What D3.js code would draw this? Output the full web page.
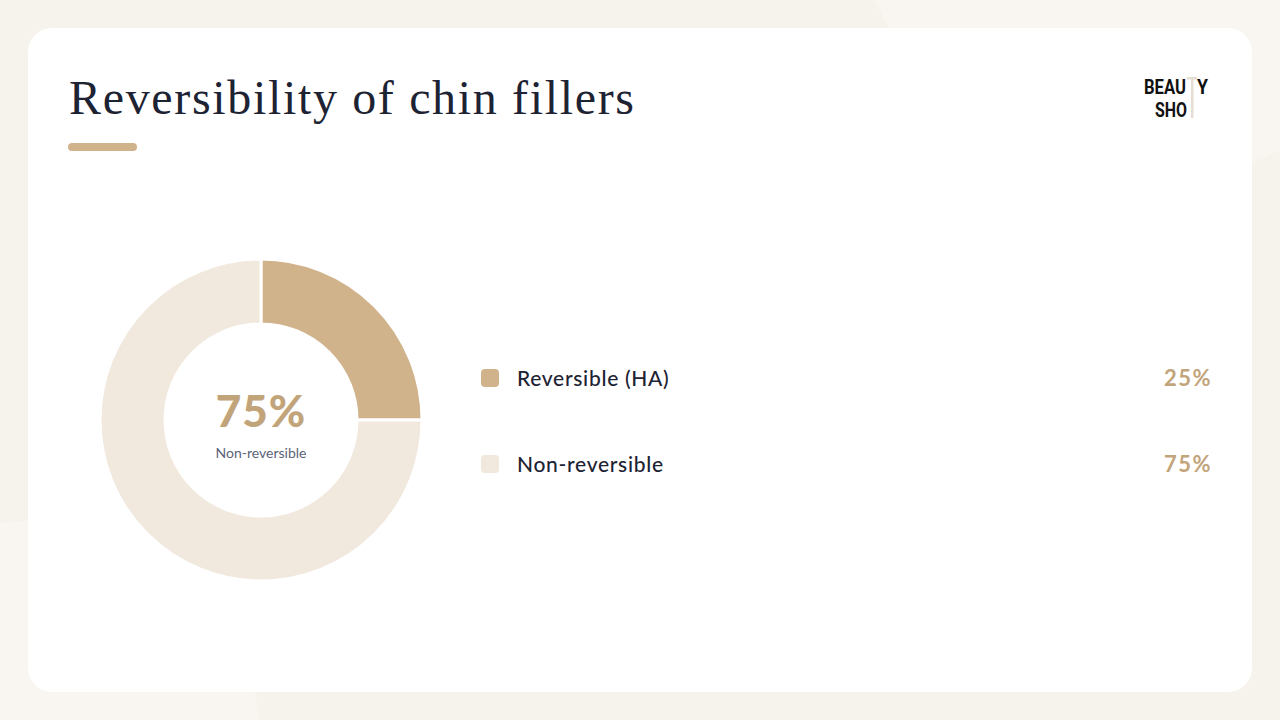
<!DOCTYPE html>
<html><head><meta charset="utf-8">
<script src="https://cdn.jsdelivr.net/npm/d3@7"></script>
<style>body{margin:0;background:#f6f2ec;overflow:hidden}</style></head>
<body><svg id="c" width="1280" height="720"></svg>
<script>
const categories = ["Reversible (HA)", "Non-reversible"];
const values = [25, 75];
const colors = ["#d1b38b", "#f1e8de"];
const centerValue = "75%";
const centerLabel = "Non-reversible";

const svg = d3.select("#c");
svg.append("rect").attr("width",1280).attr("height",720).attr("fill","#f6f2ec");
svg.append("circle").attr("cx",1150).attr("cy",-120).attr("r",300).attr("fill","#f9f6f2");
svg.append("circle").attr("cx",40).attr("cy",740).attr("r",220).attr("fill","#f9f6f2");
svg.append("rect").attr("x",28).attr("y",28).attr("width",1224).attr("height",664).attr("rx",24).attr("fill","#fff");

svg.append("text").attr("x",69).attr("y",114).attr("font-family","Liberation Serif, serif")
  .attr("font-size",48).attr("fill","#1d2333").attr("textLength",565).attr("lengthAdjust","spacing").text("Reversibility of chin fillers");
svg.append("rect").attr("x",68).attr("y",143).attr("width",69).attr("height",8).attr("rx",4).attr("fill","#d1b38b");

const logo = svg.append("g").attr("font-family","Roboto, sans-serif").attr("font-weight",700).attr("font-size",21).attr("fill","#111");
logo.append("text").attr("x",1144).attr("y",94).attr("textLength",42).attr("lengthAdjust","spacingAndGlyphs").text("BEAU");
logo.append("text").attr("x",1197).attr("y",94).attr("textLength",11).attr("lengthAdjust","spacingAndGlyphs").text("Y");
logo.append("text").attr("x",1155).attr("y",117).attr("textLength",32).attr("lengthAdjust","spacingAndGlyphs").text("SHO");
logo.append("rect").attr("x",1187).attr("y",77).attr("width",10).attr("height",2.5).attr("fill","#e6ddd3");
logo.append("rect").attr("x",1191).attr("y",77).attr("width",2.5).attr("height",41).attr("fill","#e6ddd3");

const pie = d3.pie().sort(null).value(d=>d)(values);
const arc = d3.arc().innerRadius(96).outerRadius(161);
const g = svg.append("g").attr("transform","translate(261,420)");
g.selectAll("path").data(pie).join("path").attr("d",arc).attr("fill",(d,i)=>colors[i])
  .attr("stroke","#fff").attr("stroke-width",3);
g.append("text").attr("text-anchor","middle").attr("y",7).attr("font-family","Lato, sans-serif")
  .attr("font-weight",900).attr("font-size",44).attr("letter-spacing",1).attr("fill","#c2a47a").text(centerValue);
g.append("text").attr("text-anchor","middle").attr("y",38).attr("font-family","Lato, sans-serif")
  .attr("font-size",14).attr("fill","#5b6478").text(centerLabel);

const y = d3.scalePoint().domain(categories).range([378,464]);
const leg = svg.append("g").selectAll("g").data(categories).join("g").attr("transform",d=>`translate(0,${y(d)})`);
leg.append("rect").attr("x",481).attr("y",-9).attr("width",18).attr("height",18).attr("rx",4).attr("fill",(d,i)=>colors[i]);
leg.append("text").attr("x",517).attr("y",8).attr("font-family","Lato, sans-serif").attr("font-size",21).attr("letter-spacing",0.7)
  .attr("font-weight",500).attr("fill","#1d2333").text(d=>d);
leg.append("text").attr("x",1212).attr("y",8).attr("text-anchor","end").attr("font-family","Lato, sans-serif")
  .attr("font-size",22).attr("letter-spacing",1.5).attr("font-weight",700).attr("fill","#c2a47a").text((d,i)=>values[i]+"%");
</script></body></html>
